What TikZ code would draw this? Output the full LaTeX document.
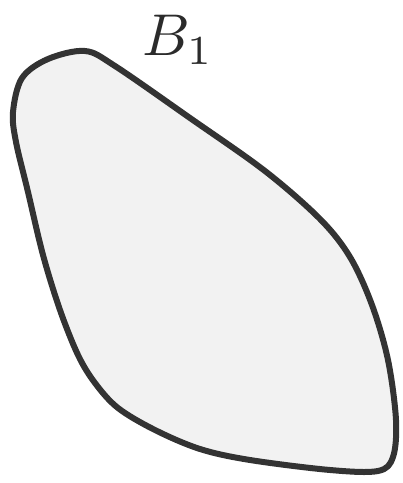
\documentclass[tikz,border=0pt]{standalone}
\usepackage{graphicx}
\begin{document}
\begin{tikzpicture}[x=1pt,y=-1pt]
\useasboundingbox (0,0) rectangle (403,483);
\definecolor{outl}{HTML}{333333}
\definecolor{fillc}{HTML}{F2F2F2}
\definecolor{txt}{HTML}{2B2B2B}
\tikzset{blob/.style={draw=outl,fill=fillc,line width=6pt,line join=round}}
\draw[blob] plot[smooth cycle, tension=0.55] coordinates {
 (13,112) (22,78) (48,59) (85,51) (115,66) (190,118) (265,171) (320,219)
 (350,257) (372,305) (388,360) (396,420) (393,457) (378,471) (330,470)
 (250,460) (200,449) (155,430) (118,408) (95,383) (78,355) (60,310)
 (43,255) (28,192) (16,142)};
\node[inner sep=0pt,text=txt] (lbl) at (178,40) {\scalebox{5.9}{$B_1$}};
\end{tikzpicture}
\end{document}
